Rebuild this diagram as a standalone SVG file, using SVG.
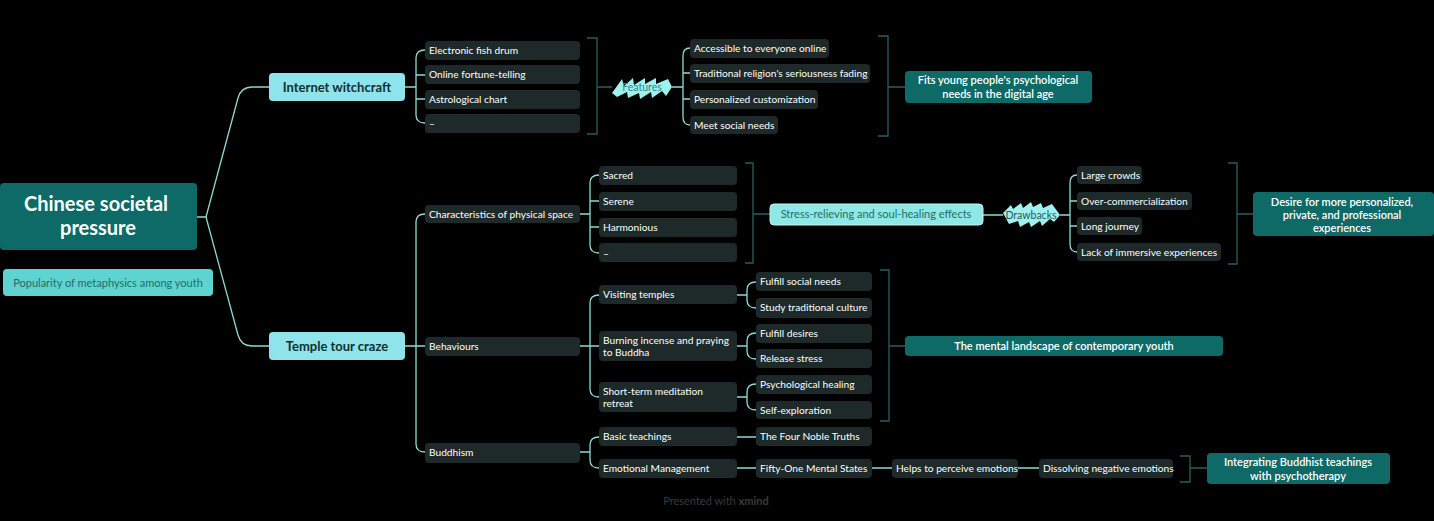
<svg xmlns="http://www.w3.org/2000/svg" width="1434" height="521" viewBox="0 0 1434 521">
<style>
text{font-family:Lato,"Liberation Sans",sans-serif;}
.bg{fill:#000}
.dk{fill:#1d2a29}
.dt{fill:#ffffff;font-size:10.2px}
.lc{fill:#8ee4ea}
.tl{fill:#0d6a66}
.tt{fill:#ffffff;font-size:11px;font-weight:600}
.br{fill:none;stroke:#8fdad2;stroke-width:1.3}
.sm{fill:none;stroke:#2b5f5a;stroke-width:1.3}
.hl{fill:#9ff1ec}
</style>
<rect class="bg" x="0" y="0" width="1434" height="521"/>
<g id="connectors">
<path class="br" d="M197,217 H206 L238,98 Q241,87 252,87 H269"/>
<path class="br" d="M206,217 L238,335 Q241,346 252,346 H269"/>
<path class="br" d="M405,87 H416 M425,50 Q416,50 416,58 V115 Q416,123 425,123 M416,75 H425 M416,99 H425"/>
<path class="sm" d="M587,38 H597 V134 H587 M597,87 H612"/>
<path class="br" d="M672,87 H683 M690,48 Q683,48 683,56 V117 Q683,125 690,125 M683,73 H690 M683,99 H690"/>
<path class="sm" d="M878,36 H888 V136 H878 M888,87 H905"/>
<path class="br" d="M405,346 H416 M425,214 Q416,214 416,222 V444 Q416,452 425,452 M416,346 H425"/>
<path class="br" d="M580,214 H590 M599,175 Q590,175 590,183 V245 Q590,253 599,253 M590,201 H599 M590,227 H599"/>
<path class="sm" d="M745,163 H753 V263 H745 M753,214 H770"/>
<path class="br" d="M983,215 H1003 M1060,215 H1070 M1077,175 Q1070,175 1070,183 V244 Q1070,252 1077,252 M1070,201 H1077 M1070,226 H1077"/>
<path class="sm" d="M1228,163 H1237 V264 H1228 M1237,214 H1253"/>
<path class="br" d="M580,346 H590 M599,295 Q590,295 590,303 V389 Q590,397 599,397 M590,346 H599"/>
<path class="br" d="M737,295 H747 M756,282 Q747,282 747,290 V300 Q747,308 756,308"/>
<path class="br" d="M737,346 H747 M756,333 Q747,333 747,341 V351 Q747,359 756,359"/>
<path class="br" d="M737,397 H747 M756,384 Q747,384 747,392 V402 Q747,410 756,410"/>
<path class="sm" d="M880,270 H889 V421 H880 M889,346 H905"/>
<path class="br" d="M580,452 H590 M599,437 Q590,437 590,445 V460 Q590,468 599,468"/>
<path class="br" d="M737,437 H756 M737,468 H756 M872,468 H892 M1018,468 H1039"/>
<path class="sm" d="M1180,456 H1190 V482 H1180 M1190,468 H1207"/>
</g>
<g id="root">
<rect class="tl" x="0" y="183" width="197" height="67" rx="4"/>
<text x="96" y="211" text-anchor="middle" fill="#fff" font-size="20" font-weight="700">Chinese societal</text>
<text x="98" y="235" text-anchor="middle" fill="#fff" font-size="20" font-weight="700">pressure</text>
</g>
<g id="note-popularity">
<rect x="3" y="269" width="210" height="27" rx="4" fill="#5ed3d0"/>
<text x="108" y="287" text-anchor="middle" fill="#1f6e6a" font-size="11">Popularity of metaphysics among youth</text>
</g>
<g id="internet-witchcraft">
<rect class="lc" x="269" y="73" width="136" height="28" rx="4"/>
<text x="337" y="92" text-anchor="middle" fill="#10302f" font-size="13" font-weight="700">Internet witchcraft</text>
</g>
<g id="iw-1"><rect class="dk" x="425" y="41" width="155" height="19" rx="4"/><text class="dt" x="429" y="54">Electronic fish drum</text></g>
<g id="iw-2"><rect class="dk" x="425" y="65" width="155" height="19" rx="4"/><text class="dt" x="429" y="78">Online fortune-telling</text></g>
<g id="iw-3"><rect class="dk" x="425" y="90" width="155" height="19" rx="4"/><text class="dt" x="429" y="103">Astrological chart</text></g>
<g id="iw-4"><rect class="dk" x="425" y="114" width="155" height="19" rx="4"/><text class="dt" x="429" y="127">–</text></g>
<g id="features">
<path class="hl" d="M612,93 L622,79 L624,86 L633,78 L634,85 L645,78 L645,84 L656,78 L656,84 L668,79 L672,87 L666,96 L662,91 L652,98 L651,92 L640,99 L639,93 L628,98 L627,92 L617,97 Z"/>
<text x="642" y="91" text-anchor="middle" fill="#2b8c86" font-size="10.5">Features</text>
</g>
<g id="f-1"><rect class="dk" x="690" y="39" width="139" height="19" rx="4"/><text class="dt" x="694" y="52">Accessible to everyone online</text></g>
<g id="f-2"><rect class="dk" x="690" y="64" width="180" height="19" rx="4"/><text class="dt" x="694" y="77">Traditional religion's seriousness fading</text></g>
<g id="f-3"><rect class="dk" x="690" y="90" width="128" height="19" rx="4"/><text class="dt" x="694" y="103">Personalized customization</text></g>
<g id="f-4"><rect class="dk" x="690" y="116" width="88" height="18" rx="4"/><text class="dt" x="694" y="129">Meet social needs</text></g>
<g id="fits-young">
<rect class="tl" x="905" y="71" width="187" height="32" rx="4"/>
<text class="tt" x="998" y="84" text-anchor="middle">Fits young people's psychological</text>
<text class="tt" x="998" y="98" text-anchor="middle">needs in the digital age</text>
</g>
<g id="temple-tour">
<rect class="lc" x="269" y="332" width="136" height="28" rx="4"/>
<text x="337" y="351" text-anchor="middle" fill="#10302f" font-size="13" font-weight="700">Temple tour craze</text>
</g>
<g id="characteristics"><rect class="dk" x="425" y="205" width="155" height="18" rx="4"/><text class="dt" x="429" y="218">Characteristics of physical space</text></g>
<g id="c-1"><rect class="dk" x="599" y="166" width="138" height="19" rx="4"/><text class="dt" x="603" y="179">Sacred</text></g>
<g id="c-2"><rect class="dk" x="599" y="192" width="138" height="19" rx="4"/><text class="dt" x="603" y="205">Serene</text></g>
<g id="c-3"><rect class="dk" x="599" y="218" width="138" height="19" rx="4"/><text class="dt" x="603" y="231">Harmonious</text></g>
<g id="c-4"><rect class="dk" x="599" y="243" width="138" height="19" rx="4"/><text class="dt" x="603" y="257">–</text></g>
<g id="stress-relieving">
<rect x="770" y="204" width="213" height="21" rx="4" fill="#8ee9e6" stroke="#bff6f3" stroke-width="1"/>
<text x="876" y="218" text-anchor="middle" fill="#1f6d68" font-size="11">Stress-relieving and soul-healing effects</text>
</g>
<g id="drawbacks">
<path class="hl" d="M1003,213 L1011,205 L1013,209 L1021,203 L1023,208 L1031,202 L1033,207 L1041,203 L1043,208 L1052,204 L1060,215 L1054,222 L1050,219 L1042,226 L1040,221 L1031,227 L1029,222 L1020,227 L1018,221 L1009,224 Z"/>
<text x="1031" y="219" text-anchor="middle" fill="#2b5a57" font-size="10.5">Drawbacks</text>
</g>
<g id="d-1"><rect class="dk" x="1077" y="166" width="65" height="18" rx="4"/><text class="dt" x="1081" y="179">Large crowds</text></g>
<g id="d-2"><rect class="dk" x="1077" y="192" width="115" height="18" rx="4"/><text class="dt" x="1081" y="205">Over-commercialization</text></g>
<g id="d-3"><rect class="dk" x="1077" y="217" width="65" height="18" rx="4"/><text class="dt" x="1081" y="230">Long journey</text></g>
<g id="d-4"><rect class="dk" x="1077" y="243" width="144" height="18" rx="4"/><text class="dt" x="1081" y="256">Lack of immersive experiences</text></g>
<g id="desire">
<rect class="tl" x="1253" y="192" width="181" height="44" rx="4"/>
<text class="tt" x="1342" y="206" text-anchor="middle">Desire for more personalized,</text>
<text class="tt" x="1342" y="219" text-anchor="middle">private, and professional</text>
<text class="tt" x="1342" y="232" text-anchor="middle">experiences</text>
</g>
<g id="behaviours"><rect class="dk" x="425" y="337" width="155" height="19" rx="4"/><text class="dt" x="429" y="350">Behaviours</text></g>
<g id="b-1"><rect class="dk" x="599" y="285" width="138" height="19" rx="4"/><text class="dt" x="603" y="298">Visiting temples</text></g>
<g id="b-2"><rect class="dk" x="599" y="331" width="138" height="30" rx="4"/><text class="dt" x="603" y="344">Burning incense and praying</text><text class="dt" x="603" y="356">to Buddha</text></g>
<g id="b-3"><rect class="dk" x="599" y="382" width="138" height="30" rx="4"/><text class="dt" x="603" y="395">Short-term meditation</text><text class="dt" x="603" y="407">retreat</text></g>
<g id="b-1-1"><rect class="dk" x="756" y="272" width="116" height="19" rx="4"/><text class="dt" x="760" y="285">Fulfill social needs</text></g>
<g id="b-1-2"><rect class="dk" x="756" y="298" width="116" height="20" rx="4"/><text class="dt" x="760" y="311">Study traditional culture</text></g>
<g id="b-2-1"><rect class="dk" x="756" y="324" width="116" height="19" rx="4"/><text class="dt" x="760" y="337">Fulfill desires</text></g>
<g id="b-2-2"><rect class="dk" x="756" y="349" width="116" height="19" rx="4"/><text class="dt" x="760" y="362">Release stress</text></g>
<g id="b-3-1"><rect class="dk" x="756" y="375" width="116" height="19" rx="4"/><text class="dt" x="760" y="388">Psychological healing</text></g>
<g id="b-3-2"><rect class="dk" x="756" y="401" width="116" height="18" rx="4"/><text class="dt" x="760" y="414">Self-exploration</text></g>
<g id="mental-landscape">
<rect class="tl" x="905" y="336" width="318" height="20" rx="4"/>
<text class="tt" x="1064" y="350" text-anchor="middle">The mental landscape of contemporary youth</text>
</g>
<g id="buddhism"><rect class="dk" x="425" y="443" width="155" height="20" rx="4"/><text class="dt" x="429" y="456">Buddhism</text></g>
<g id="basic-teachings"><rect class="dk" x="599" y="427" width="138" height="19" rx="4"/><text class="dt" x="603" y="440">Basic teachings</text></g>
<g id="emotional-management"><rect class="dk" x="599" y="459" width="138" height="19" rx="4"/><text class="dt" x="603" y="472">Emotional Management</text></g>
<g id="four-noble"><rect class="dk" x="756" y="427" width="116" height="19" rx="4"/><text class="dt" x="760" y="440">The Four Noble Truths</text></g>
<g id="fifty-one"><rect class="dk" x="756" y="459" width="116" height="19" rx="4"/><text class="dt" x="760" y="472">Fifty-One Mental States</text></g>
<g id="helps"><rect class="dk" x="892" y="459" width="126" height="19" rx="4"/><text class="dt" x="896" y="472">Helps to perceive emotions</text></g>
<g id="dissolving"><rect class="dk" x="1039" y="459" width="134" height="19" rx="4"/><text class="dt" x="1043" y="472">Dissolving negative emotions</text></g>
<g id="integrating">
<rect class="tl" x="1207" y="453" width="183" height="31" rx="4"/>
<text class="tt" x="1298" y="466" text-anchor="middle">Integrating Buddhist teachings</text>
<text class="tt" x="1298" y="480" text-anchor="middle">with psychotherapy</text>
</g>
<text x="716" y="505" text-anchor="middle" fill="#3a3a3a" font-size="11">Presented with <tspan font-weight="700">xmind</tspan></text>
</svg>
